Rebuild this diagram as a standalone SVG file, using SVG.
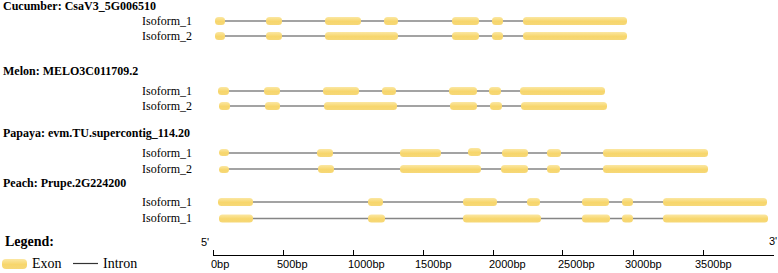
<svg xmlns="http://www.w3.org/2000/svg" width="778" height="273" viewBox="0 0 778 273">
<defs>
<linearGradient id="exg" x1="0" y1="0" x2="0" y2="1">
<stop offset="0" stop-color="#fbe7a2"/>
<stop offset="0.55" stop-color="#f7d66c"/>
<stop offset="1" stop-color="#f6d878"/>
</linearGradient>
</defs>
<style>
.title{font-family:"Liberation Serif","Times New Roman","DejaVu Serif",serif;font-weight:bold;font-size:12px;fill:#000}
.iso{font-family:"Liberation Serif","Times New Roman","DejaVu Serif",serif;font-size:12px;fill:#000}
.intron{stroke:#858585;stroke-width:1.6;fill:none}
.ex{fill:url(#exg)}
.ax{stroke:#000;stroke-width:1;fill:none}
.tk{font-family:"Liberation Sans",Arial,sans-serif;font-size:11px;fill:#000}
.leg{font-family:"Liberation Serif","Times New Roman","DejaVu Serif",serif;font-size:14px;fill:#000}
</style>
<rect width="778" height="273" fill="#fff"/>

<g id="titles">
<text class="title" x="3" y="10">Cucumber: CsaV3_5G006510</text>
<text class="title" x="3" y="75">Melon: MELO3C011709.2</text>
<text class="title" x="3" y="137">Papaya: evm.TU.supercontig_114.20</text>
<text class="title" x="3" y="187">Peach: Prupe.2G224200</text>
</g>

<g id="cucumber_iso1">
<text class="iso" x="142" y="25">Isoform_1</text>
<line class="intron" x1="218" y1="21" x2="624" y2="21"/>
<rect class="ex" x="215" y="17" width="10" height="8" rx="3.5"/>
<rect class="ex" x="266" y="17" width="16" height="8" rx="3.5"/>
<rect class="ex" x="325" y="17" width="36" height="8" rx="3.5"/>
<rect class="ex" x="384" y="17" width="14" height="8" rx="3.5"/>
<rect class="ex" x="452" y="17" width="27" height="8" rx="3.5"/>
<rect class="ex" x="492" y="17" width="11" height="8" rx="3.5"/>
<rect class="ex" x="523" y="17" width="104" height="8" rx="3.5"/>
</g>
<g id="cucumber_iso2">
<text class="iso" x="142" y="40">Isoform_2</text>
<line class="intron" x1="218" y1="36" x2="624" y2="36"/>
<rect class="ex" x="215" y="32" width="10" height="8" rx="3.5"/>
<rect class="ex" x="266" y="32" width="16" height="8" rx="3.5"/>
<rect class="ex" x="325" y="32" width="73" height="8" rx="3.5"/>
<rect class="ex" x="452" y="32" width="27" height="8" rx="3.5"/>
<rect class="ex" x="492" y="32" width="11" height="8" rx="3.5"/>
<rect class="ex" x="523" y="32" width="104" height="8" rx="3.5"/>
</g>

<g id="melon_iso1">
<text class="iso" x="142" y="95">Isoform_1</text>
<line class="intron" x1="220" y1="91" x2="602" y2="91"/>
<rect class="ex" x="218" y="87" width="11" height="8" rx="3.5"/>
<rect class="ex" x="264" y="87" width="16" height="8" rx="3.5"/>
<rect class="ex" x="323" y="87" width="36" height="8" rx="3.5"/>
<rect class="ex" x="382" y="87" width="14" height="8" rx="3.5"/>
<rect class="ex" x="449" y="87" width="28" height="8" rx="3.5"/>
<rect class="ex" x="489" y="87" width="12" height="8" rx="3.5"/>
<rect class="ex" x="520" y="87" width="85" height="8" rx="3.5"/>
</g>
<g id="melon_iso2">
<text class="iso" x="142" y="110">Isoform_2</text>
<line class="intron" x1="221" y1="106" x2="604" y2="106"/>
<rect class="ex" x="219" y="102" width="11" height="8" rx="3.5"/>
<rect class="ex" x="265" y="102" width="15" height="8" rx="3.5"/>
<rect class="ex" x="324" y="102" width="73" height="8" rx="3.5"/>
<rect class="ex" x="450" y="102" width="27" height="8" rx="3.5"/>
<rect class="ex" x="490" y="102" width="12" height="8" rx="3.5"/>
<rect class="ex" x="521" y="102" width="86" height="8" rx="3.5"/>
</g>

<g id="papaya_iso1">
<text class="iso" x="142" y="157">Isoform_1</text>
<line class="intron" x1="221" y1="153" x2="705" y2="153"/>
<rect class="ex" x="219" y="149" width="10" height="7" rx="3.5"/>
<rect class="ex" x="317" y="149" width="16" height="8" rx="3.5"/>
<rect class="ex" x="400" y="149" width="41" height="8" rx="3.5"/>
<rect class="ex" x="468" y="148" width="13" height="8" rx="3.5"/>
<rect class="ex" x="502" y="149" width="26" height="8" rx="3.5"/>
<rect class="ex" x="547" y="149" width="14" height="8" rx="3.5"/>
<rect class="ex" x="603" y="149" width="105" height="8" rx="3.5"/>
</g>
<g id="papaya_iso2">
<text class="iso" x="142" y="173">Isoform_2</text>
<line class="intron" x1="221" y1="169" x2="705" y2="169"/>
<rect class="ex" x="219" y="166" width="10" height="7" rx="3.5"/>
<rect class="ex" x="318" y="165" width="16" height="8" rx="3.5"/>
<rect class="ex" x="400" y="165" width="81" height="8" rx="3.5"/>
<rect class="ex" x="501" y="165" width="27" height="8" rx="3.5"/>
<rect class="ex" x="547" y="165" width="13" height="8" rx="3.5"/>
<rect class="ex" x="603" y="165" width="105" height="8" rx="3.5"/>
</g>

<g id="peach_iso1">
<text class="iso" x="142" y="206">Isoform_1</text>
<line class="intron" x1="221" y1="202" x2="765" y2="202"/>
<rect class="ex" x="218" y="198" width="35" height="8" rx="3.5"/>
<rect class="ex" x="368" y="198" width="15" height="8" rx="3.5"/>
<rect class="ex" x="463" y="198" width="34" height="8" rx="3.5"/>
<rect class="ex" x="527" y="198" width="13" height="8" rx="3.5"/>
<rect class="ex" x="582" y="198" width="27" height="8" rx="3.5"/>
<rect class="ex" x="622" y="198" width="11" height="8" rx="3.5"/>
<rect class="ex" x="663" y="198" width="104" height="8" rx="3.5"/>
</g>
<g id="peach_iso2">
<text class="iso" x="142" y="222">Isoform_1</text>
<line class="intron" x1="221" y1="218.5" x2="765" y2="218.5"/>
<rect class="ex" x="219" y="214.5" width="34" height="8" rx="3.5"/>
<rect class="ex" x="368" y="214.5" width="17" height="8" rx="3.5"/>
<rect class="ex" x="463" y="214.5" width="78" height="8" rx="3.5"/>
<rect class="ex" x="582" y="214.5" width="28" height="8" rx="3.5"/>
<rect class="ex" x="622" y="214.5" width="11" height="8" rx="3.5"/>
<rect class="ex" x="663" y="214.5" width="105" height="8" rx="3.5"/>
</g>

<g id="legend">
<text class="leg" x="5" y="246" font-weight="bold">Legend:</text>
<rect class="ex" x="2" y="259" width="25" height="10" rx="4"/>
<text class="leg" x="32" y="268">Exon</text>
<line x1="73" y1="263.5" x2="98" y2="263.5" stroke="#333" stroke-width="1.2"/>
<text class="leg" x="103" y="268">Intron</text>
</g>

<g id="axis">
<text class="tk" x="201" y="246">5'</text>
<text class="tk" x="769" y="245">3'</text>
<line class="ax" x1="213" y1="255.5" x2="774" y2="255.5"/>
<path class="ax" d="M213.5 250V255.5M283.5 250V255.5M353.5 250V255.5M423.5 250V255.5M493.5 250V255.5M562.5 250V255.5M633.5 250V255.5M703.5 250V255.5"/>
<text class="tk" x="211" y="268">0bp</text>
<text class="tk" x="277" y="268">500bp</text>
<text class="tk" x="348" y="268">1000bp</text>
<text class="tk" x="415" y="268">1500bp</text>
<text class="tk" x="489" y="268">2000bp</text>
<text class="tk" x="558" y="268">2500bp</text>
<text class="tk" x="625" y="268">3000bp</text>
<text class="tk" x="695" y="268">3500bp</text>
</g>
</svg>
